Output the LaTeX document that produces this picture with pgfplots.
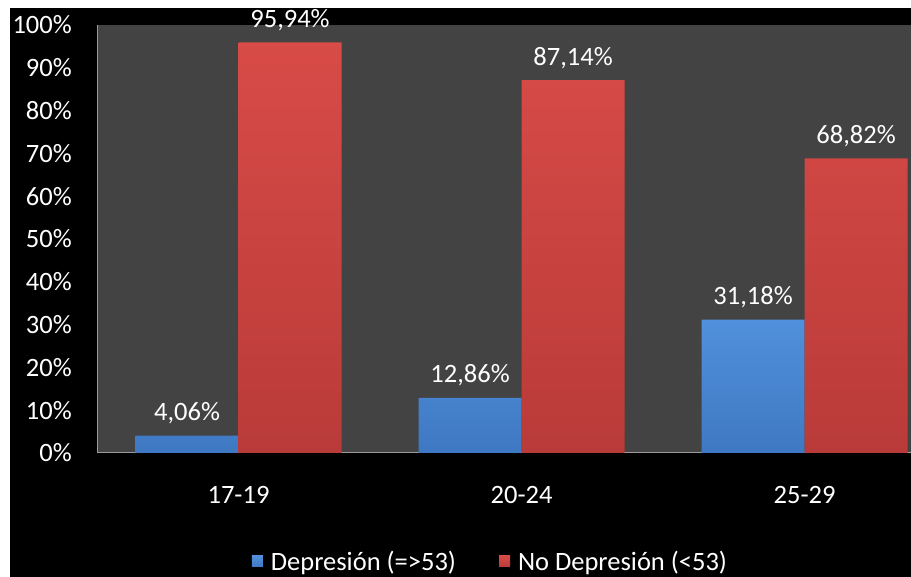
\documentclass[border=0pt]{standalone}
\usepackage{pgfplots}
\pgfplotsset{compat=1.18}
\usepackage{fontspec}
\setmainfont{Carlito}

\definecolor{plotbg}{HTML}{434343}
\definecolor{axisgray}{HTML}{9A9A9A}
\definecolor{bluetop}{HTML}{5190DC}
\definecolor{bluebot}{HTML}{3F78C2}
\definecolor{redtop}{HTML}{D84B47}
\definecolor{redbot}{HTML}{B93B39}

\newcommand{\chartfont}{\fontsize{26.5bp}{30bp}\selectfont}

\begin{document}
\begin{tikzpicture}[x=1bp,y=1bp]
\useasboundingbox (0,0) rectangle (911,577);
\clip (0,0) rectangle (911,577);
\fill[white] (0,0) rectangle (911,577);
\fill[black] (10,0) rectangle (911,569);
\begin{axis}[
  at={(97bp,124bp)}, anchor=south west,
  scale only axis, width=814bp, height=428bp,
  clip=false,
  xmin=-0.5, xmax=2.376, ymin=0, ymax=100,
  axis background/.style={fill=plotbg},
  axis x line*=bottom, axis y line*=left,
  axis line style={axisgray, line width=1bp, -},
  major tick length=0pt,
  xtick={0,1,2}, xticklabels={17-19,20-24,25-29},
  ytick={0,10,...,100},
  yticklabels={0\%,10\%,20\%,30\%,40\%,50\%,60\%,70\%,80\%,90\%,100\%},
  tick label style={white, font=\chartfont, inner sep=0pt},
  xticklabel style={anchor=base, yshift=-51bp},
  yticklabel style={anchor=east, xshift=-25bp},
  ybar=0pt, bar width=103bp,
  nodes near coords={\pgfmathprintnumber[fixed,fixed zerofill,precision=2,use comma,assume math mode=true]{\pgfplotspointmeta}\%},
  every node near coord/.append style={white, font=\chartfont, anchor=base, yshift=15bp, inner sep=0pt},
  legend image code/.code={\fill[#1] (0bp,-5bp) rectangle (11bp,6bp);},
  legend columns=2,
  legend style={at={(0.19,-0.254)}, anchor=west, fill=none, draw=none,
    text=white, font=\chartfont, inner sep=0pt,
    nodes={inner sep=0pt},
    /tikz/every odd column/.append style={column sep=8bp},
    /tikz/every even column/.append style={column sep=43bp}},
]
\addplot[draw=none, top color=bluetop, bottom color=bluebot]
  coordinates {(0,4.06) (1,12.86) (2,31.18)};
\addlegendentry{Depresión (=>53)}
\addplot[draw=none, top color=redtop, bottom color=redbot]
  coordinates {(0,95.94) (1,87.14) (2,68.82)};
\addlegendentry{No Depresión (<53)}
\end{axis}
\end{tikzpicture}
\end{document}
